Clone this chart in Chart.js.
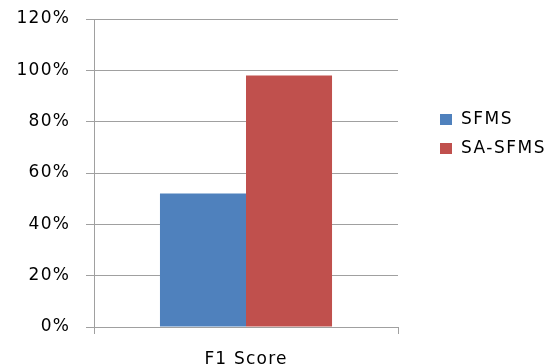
<!DOCTYPE html>
<html>
<head>
<meta charset="utf-8">
<script src="https://cdn.jsdelivr.net/npm/chart.js@4.4.0/dist/chart.umd.min.js"></script>
<style>
  html, body { margin: 0; padding: 0; background: #fff; }
  #wrap { position: relative; width: 557px; height: 364px; overflow: hidden; }
  #legend { position: absolute; left: 440px; top: 104px; font: 17px "DejaVu Sans", sans-serif; letter-spacing: 1.5px; color: #000; }
  #legend div { height: 29px; line-height: 29px; white-space: nowrap; }
  #legend span { display: inline-block; width: 12px; height: 11px; margin-right: 9px; vertical-align: -1px; }
</style>
</head>
<body>
<div id="wrap">
  <canvas id="chart" width="557" height="364"></canvas>
  <div id="legend"></div>
</div>
<script>
// categories and series
const categories = ["F1 Score"];
const series_names = ["SFMS", "SA-SFMS"];
const sfms_values = [52];
const sa_sfms_values = [98];
const y_ticks = [0, 20, 40, 60, 80, 100, 120];

const colors = ["#4F81BD", "#C0504D"];
const grid_color = "#A0A0A0";
const font = { family: "DejaVu Sans", size: 17 };

// canvas state is reset when the chart sizes it, so set spacing on every draw
const letter_spacing = {
  id: "letter_spacing",
  beforeDraw: chart => { chart.ctx.letterSpacing = "1.2px"; }
};

const ctx = document.getElementById("chart").getContext("2d");

const my_chart = new Chart(ctx, {
  type: "bar",
  data: {
    labels: categories,
    datasets: [{
      label: series_names[0],
      data: sfms_values,
      backgroundColor: colors[0],
      categoryPercentage: 0.566,
      barPercentage: 1
    }, {
      label: series_names[1],
      data: sa_sfms_values,
      backgroundColor: colors[1],
      categoryPercentage: 0.566,
      barPercentage: 1
    }]
  },
  options: {
    responsive: false,
    animation: false,
    layout: { padding: { top: 19, right: 159, left: 0, bottom: 0 } },
    plugins: { legend: { display: false }, tooltip: { enabled: false } },
    scales: {
      x: {
        grid: { offset: true, drawOnChartArea: false, color: grid_color, tickLength: 7 },
        border: { color: grid_color },
        ticks: { color: "#000", font: font, padding: 15 },
        afterFit: axis => { axis.height = 37; axis.paddingLeft = 0; axis.paddingRight = 0; }
      },
      y: {
        min: 0,
        max: 120,
        afterBuildTicks: axis => { axis.ticks = y_ticks.map(v => ({ value: v })); },
        grid: { color: grid_color, tickLength: 8 },
        border: { color: grid_color },
        ticks: { color: "#000", font: font, padding: 16, callback: v => v + "%" },
        afterFit: axis => { axis.width = 94; axis.paddingTop = 0; axis.paddingBottom = 0; }
      }
    }
  },
  plugins: [letter_spacing]
});

// legend built from the datasets
const legend_el = document.getElementById("legend");
my_chart.data.datasets.forEach(ds => {
  const row = document.createElement("div");
  row.innerHTML = '<span style="background:' + ds.backgroundColor + '"></span>' + ds.label;
  legend_el.appendChild(row);
});
</script>
</body>
</html>
